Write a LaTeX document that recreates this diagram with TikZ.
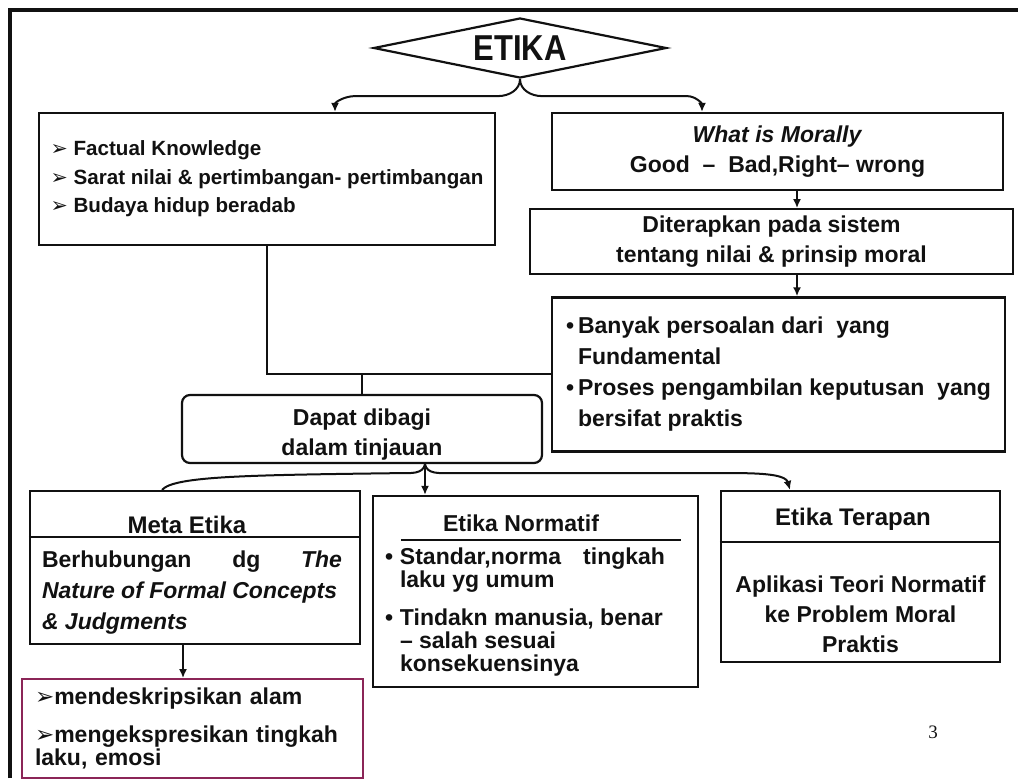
\documentclass[tikz,border=0pt]{standalone}
\usepackage{fontspec}
\setmainfont{Liberation Sans}
\newfontfamily\symfont{DejaVu Sans}
\newfontfamily\pagefont{Liberation Serif}
\usepackage{graphicx}
\usetikzlibrary{positioning, arrows.meta, shapes.geometric}
\definecolor{Ink}{HTML}{111111}
\definecolor{Plum}{HTML}{8B2557}
\newcommand{\pointer}{{\symfont ➢}}
\newcommand{\dotbul}[1][6pt]{\makebox[#1][l]{\textbullet}}

\begin{document}
\begin{tikzpicture}[
    x=0.5pt, y=-0.5pt,
    every node/.style={font=\bfseries\fontsize{11.5}{15}\selectfont, text=Ink},
    box/.style={draw=Ink, line width=1.1pt, inner sep=0pt},
    head/.style={font=\bfseries\fontsize{12}{14}\selectfont},
    arr/.style={-{Latex[length=4.5pt, width=4pt]}, line width=1pt, color=Ink},
    link/.style={line width=1pt, color=Ink}
]
\useasboundingbox (0,0) rectangle (1018,778);

% Slide frame
\draw[line width=2.4pt, color=Ink] (10,778) -- (10,10) -- (1018,10);

% Root
\node[draw=Ink, line width=1.1pt, diamond, shape aspect=5, inner sep=0pt, minimum width=146.5pt, minimum height=30pt] (etika) at (520,48) {\fontsize{18}{18}\selectfont\scalebox{0.86}[1]{ETIKA}};

% First level
\node[box, minimum width=228pt, minimum height=66pt, align=left, font=\bfseries\fontsize{10.3}{14.25}\selectfont] (know) at (267,179) {\pointer\ Factual Knowledge\\ \pointer\ Sarat nilai \& pertimbangan- pertimbangan\\ \pointer\ Budaya hidup beradab};
\node[box, minimum width=225.5pt, minimum height=38.5pt, align=center] (what) at (777.5,151.5) {\textit{What is Morally}\\ Good\ \ –\ \ Bad,Right– wrong};
\node[box, minimum width=241.5pt, minimum height=32.5pt, align=center, below=8.5pt of what, xshift=-3pt] (terap) {Diterapkan pada sistem\\ tentang nilai \& prinsip moral};
\node[box, minimum width=226.5pt, minimum height=77pt, align=left, below=10.5pt of terap, xshift=3.5pt, font=\bfseries\fontsize{11.5}{15.5}\selectfont] (banyak) {\dotbul Banyak persoalan dari\ \ yang\\ \hspace*{6pt}Fundamental\\ \dotbul Proses pengambilan keputusan\ \ yang\\ \hspace*{6pt}bersifat praktis};

\coordinate (fork) at (etika.south);
\draw[arr] (fork) to[out=270,in=0] ++(-22,17) -- ++(-143,0) to[out=180,in=90] (335,0 |- know.north);
\draw[arr] (fork) to[out=270,in=180] ++(22,17) -- ++(145,0) to[out=0,in=90] (702,0 |- what.north);
\draw[arr] (797,0 |- what.south) -- (797,0 |- terap.north);
\draw[arr] (797,0 |- terap.south) -- (797,0 |- banyak.north);

% Join
\node[box, rounded corners=4pt, minimum width=180pt, minimum height=34pt, align=center] (dapat) at (362,429) {\rule{0pt}{14pt}Dapat dibagi\\ dalam tinjauan};
\draw[link] (know.south) |- (banyak.west);
\draw[link] (dapat.north |- banyak.west) -- (dapat.north);

% Second level
\node[box, minimum width=165pt, minimum height=76.5pt] (meta) at (195,567.5) {};
\node[head] (metahead) at (187,525) {Meta Etika};
\draw[link] ([yshift=-23.5pt]meta.north west) -- ([yshift=-23.5pt]meta.north east);
\node[align=left, font=\bfseries\fontsize{11.5}{15.5}\selectfont] (metabody) at (192,593) {\hbox to 150pt{Berhubungan\hfill dg\hfill\textit{The}}\\ \textit{Nature of Formal Concepts}\\ \textit{\& Judgments}};

\node[box, minimum width=162.5pt, minimum height=95.5pt] (normatif) at (535.5,591.5) {};
\node[font=\bfseries\fontsize{11.5}{14}\selectfont] (normhead) at (521,523) {Etika Normatif};
\draw[line width=0.6pt, color=Ink] ([shift={(29,45)}]normatif.north west) -- ([shift={(-18,45)}]normatif.north east);
\node[align=left, font=\bfseries\fontsize{11.5}{11.5}\selectfont] (normbody) at (525,612) {\dotbul[7.5pt]\hbox to 132.5pt{Standar,norma\hfill tingkah}\\ \hspace*{7.5pt}laku yg umum\\[7.5pt] \dotbul[7.5pt]Tindakn manusia, benar\\ \hspace*{7.5pt}– salah sesuai\\ \hspace*{7.5pt}konsekuensinya};

\node[box, minimum width=139.5pt, minimum height=85.5pt] (terapan) at (860.5,576.5) {};
\node[head] (terhead) at (853,519) {Etika Terapan};
\draw[link] ([yshift=-26pt]terapan.north west) -- ([yshift=-26pt]terapan.north east);
\node[align=center] (terbody) at (860.5,614) {Aplikasi Teori Normatif\\ ke Problem Moral\\ Praktis};

\coordinate (split) at ([xshift=31.5pt]dapat.south);
\draw[link] (split) to[out=260,in=0] ++(-25,9) .. controls +(-150,2) and +(12,-14) .. (162,0 |- meta.north);
\draw[arr] (split) -- (split |- normatif.north);
\draw[arr] (split) to[out=280,in=180] ++(25,9) -- ++(285,0) .. controls +(35,0) and +(-4,-14) .. (790,0 |- terapan.north);

% Third level
\node[box, draw=Plum, inner xsep=6.5pt, text width=157.5pt, minimum height=49.5pt, align=left, below=16.5pt of meta, xshift=-1.25pt, font=\bfseries\fontsize{11.5}{11.5}\selectfont] (ekspresi) {\pointer mendeskripsikan alam\\[7.5pt] \pointer mengekspresikan tingkah\\ laku, emosi};
\draw[arr] (183,0 |- meta.south) -- (183,0 |- ekspresi.north);

% Page number
\node[font=\pagefont\fontsize{9.5}{10}\selectfont] (pagenum) at (933,732) {3};

\end{tikzpicture}
\end{document}
